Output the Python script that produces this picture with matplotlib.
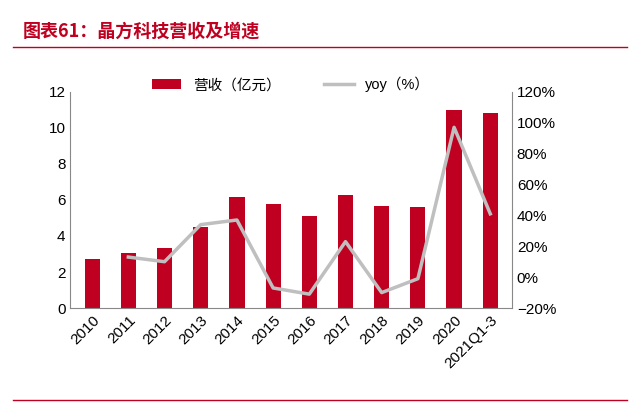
import matplotlib.pyplot as plt
import matplotlib.ticker as mtick

plt.rcParams['font.family'] = ['Liberation Sans', 'Noto Sans CJK SC']


def main():
    years = ["2010", "2011", "2012", "2013", "2014", "2015", "2016",
             "2017", "2018", "2019", "2020", "2021Q1-3"]
    revenue = [2.7, 3.05, 3.35, 4.5, 6.15, 5.75, 5.1, 6.3, 5.65, 5.6, 11.0, 10.8]
    yoy = [None, 13, 10, 34, 37, -7, -11, 23, -10, -1, 97, 41]

    red = "#C00020"
    fig = plt.figure(figsize=(6.4, 4.08), dpi=100)
    fig.text(0.035, 0.91, "图表61：晶方科技营收及增速", color=red,
             fontsize=13, fontweight="bold", style="italic",
             family=['Noto Sans CJK SC', 'DejaVu Sans'])
    fig.add_artist(plt.Line2D([0.02, 0.98], [0.885, 0.885], color=red, lw=1))
    fig.add_artist(plt.Line2D([0.02, 0.98], [0.02, 0.02], color=red, lw=1))

    ax = fig.add_axes([0.11, 0.245, 0.69, 0.53])
    x = list(range(len(years)))
    ax.bar(x, revenue, width=0.42, color=red, label="营收（亿元）")
    ax.set_ylim(0, 12)
    ax.set_yticks(range(0, 13, 2))
    ax.set_xlim(-0.6, len(years) - 0.4)
    ax.set_xticks(x)
    ax.set_xticklabels(years, rotation=45, ha="right", rotation_mode="anchor")
    for s in ["top", "right"]:
        ax.spines[s].set_visible(False)
    ax.spines["left"].set_color("#888888")
    ax.spines["bottom"].set_color("#888888")
    ax.tick_params(labelsize=11, length=0)

    ax2 = ax.twinx()
    xs = [i for i, v in zip(x, yoy) if v is not None]
    ys = [v for v in yoy if v is not None]
    ax2.plot(xs, ys, color="#BFBFBF", lw=2.5, label="yoy（%）")
    ax2.set_ylim(-20, 120)
    ax2.set_yticks(range(-20, 121, 20))
    ax2.yaxis.set_major_formatter(mtick.PercentFormatter(decimals=0))
    for s in ["top", "left", "bottom"]:
        ax2.spines[s].set_visible(False)
    ax2.spines["right"].set_color("#888888")
    ax2.tick_params(labelsize=11, length=0)

    h1, l1 = ax.get_legend_handles_labels()
    h2, l2 = ax2.get_legend_handles_labels()
    ax.legend(h1 + h2, l1 + l2, loc="upper center", bbox_to_anchor=(0.5, 1.13),
              ncol=2, frameon=False, fontsize=10.5, columnspacing=3)

    fig.savefig("out.png", dpi=100)


if __name__ == "__main__":
    main()
